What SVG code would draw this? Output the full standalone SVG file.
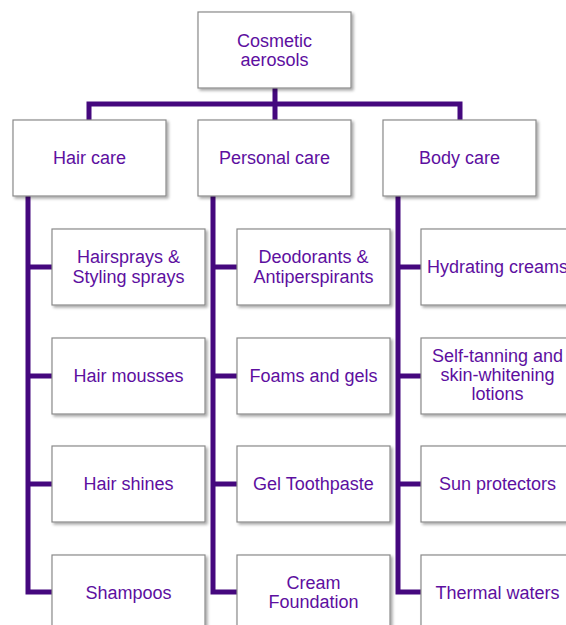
<svg xmlns="http://www.w3.org/2000/svg" width="566" height="625" viewBox="0 0 566 625">
<defs>
<filter id="sh" x="-10%" y="-10%" width="125%" height="130%">
<feGaussianBlur in="SourceAlpha" stdDeviation="1.5"/>
<feOffset dx="1.5" dy="2" result="b"/>
<feComponentTransfer><feFuncA type="linear" slope="0.35"/></feComponentTransfer>
<feMerge><feMergeNode/><feMergeNode in="SourceGraphic"/></feMerge>
</filter>
</defs>
<style>
.box{fill:#fff;stroke:#8a8a8a;stroke-width:1.2;filter:url(#sh)}
.t{font-family:"Liberation Sans",Arial,sans-serif;font-size:18px;fill:#5d0fa0;text-anchor:middle}
.c{fill:none;stroke:#45087e;stroke-width:5;stroke-linejoin:miter}
</style>
<rect width="566" height="625" fill="#fff"/>
<g id="connectors">
<path class="c" d="M275 88V120M89 120V104H460V120"/>
<path class="c" d="M28 196V592H52M28 267H52M28 376H52M28 484H52"/>
<path class="c" d="M213 196V592H237M213 267H237M213 376H237M213 484H237"/>
<path class="c" d="M398 196V592H421M398 267H421M398 376H421M398 484H421"/>
</g>
<g id="root"><rect class="box" x="198" y="12" width="153" height="76"/><text class="t" x="274.5" y="47">Cosmetic</text><text class="t" x="274.5" y="66">aerosols</text></g>
<g id="hair-care"><rect class="box" x="13" y="120" width="153" height="76"/><text class="t" x="89.5" y="164">Hair care</text></g>
<g id="personal-care"><rect class="box" x="198" y="120" width="153" height="76"/><text class="t" x="274.5" y="164">Personal care</text></g>
<g id="body-care"><rect class="box" x="383" y="120" width="153" height="76"/><text class="t" x="459.5" y="164">Body care</text></g>
<g id="hairsprays"><rect class="box" x="52" y="229" width="153" height="76"/><text class="t" x="128.5" y="263">Hairsprays &amp;</text><text class="t" x="128.5" y="283">Styling sprays</text></g>
<g id="hair-mousses"><rect class="box" x="52" y="338" width="153" height="76"/><text class="t" x="128.5" y="382">Hair mousses</text></g>
<g id="hair-shines"><rect class="box" x="52" y="446" width="153" height="76"/><text class="t" x="128.5" y="490">Hair shines</text></g>
<g id="shampoos"><rect class="box" x="52" y="555" width="153" height="76"/><text class="t" x="128.5" y="599">Shampoos</text></g>
<g id="deodorants"><rect class="box" x="237" y="229" width="153" height="76"/><text class="t" x="313.5" y="263">Deodorants &amp;</text><text class="t" x="313.5" y="283">Antiperspirants</text></g>
<g id="foams"><rect class="box" x="237" y="338" width="153" height="76"/><text class="t" x="313.5" y="382">Foams and gels</text></g>
<g id="gel-toothpaste"><rect class="box" x="237" y="446" width="153" height="76"/><text class="t" x="313.5" y="490">Gel Toothpaste</text></g>
<g id="cream-foundation"><rect class="box" x="237" y="555" width="153" height="76"/><text class="t" x="313.5" y="589">Cream</text><text class="t" x="313.5" y="608">Foundation</text></g>
<g id="hydrating"><rect class="box" x="421" y="229" width="153" height="76"/><text class="t" x="497.5" y="273">Hydrating creams</text></g>
<g id="self-tanning"><rect class="box" x="421" y="338" width="153" height="76"/><text class="t" x="497.5" y="362">Self-tanning and</text><text class="t" x="497.5" y="381">skin-whitening</text><text class="t" x="497.5" y="400">lotions</text></g>
<g id="sun-protectors"><rect class="box" x="421" y="446" width="153" height="76"/><text class="t" x="497.5" y="490">Sun protectors</text></g>
<g id="thermal-waters"><rect class="box" x="421" y="555" width="153" height="76"/><text class="t" x="497.5" y="599">Thermal waters</text></g>
</svg>
